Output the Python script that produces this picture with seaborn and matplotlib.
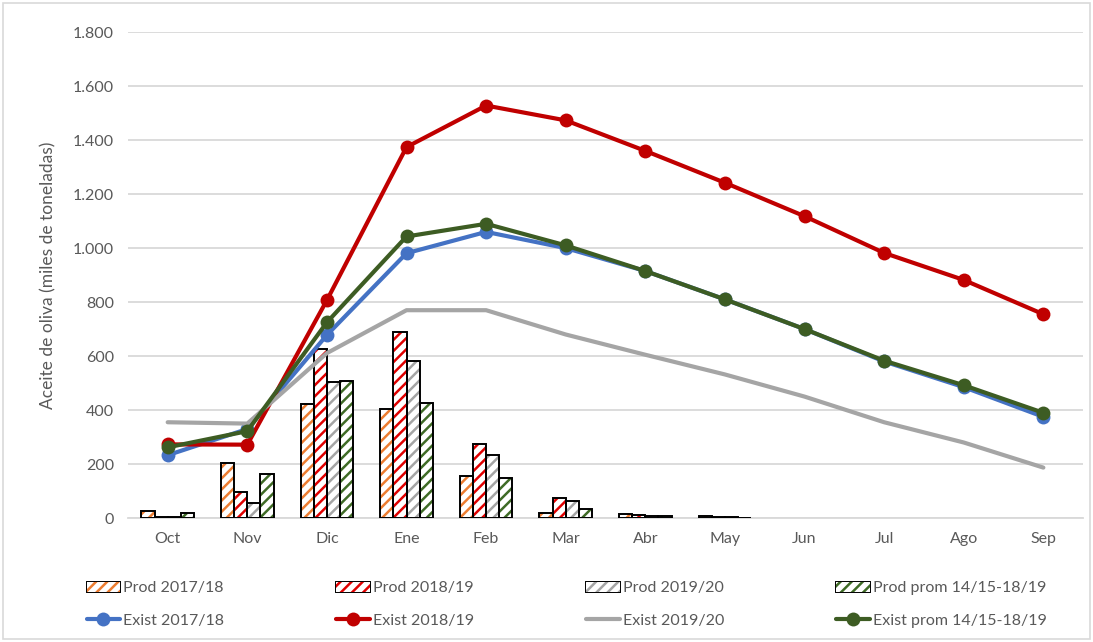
import numpy as np
import pandas as pd
import seaborn as sns
import matplotlib.pyplot as plt
from matplotlib.patches import Rectangle, Patch
from matplotlib.lines import Line2D
from matplotlib.ticker import FuncFormatter

meses = ['Oct', 'Nov', 'Dic', 'Ene', 'Feb', 'Mar', 'Abr', 'May', 'Jun', 'Jul', 'Ago', 'Sep']

prod_1718 = [26, 204, 424, 404, 155, 19, 15, 6, 0, 0, 0, 0]
prod_1819 = [5, 96, 626, 689, 274, 74, 11, 4, 0, 0, 0, 0]
prod_1920 = [5, 55, 504, 581, 233, 63, 6, 3, 0, 0, 0, 0]
prod_prom = [18, 163, 509, 426, 148, 33, 6, 2, 0, 0, 0, 0]

exist_1718 = [233, 330, 678, 981, 1060, 1000, 915, 810, 700, 580, 485, 375]
exist_1819 = [273, 272, 807, 1374, 1528, 1473, 1360, 1242, 1118, 982, 882, 755]
exist_1920 = [355, 350, 611, 770, 770, 680, 605, 532, 450, 355, 280, 187]
exist_prom = [262, 322, 725, 1043, 1090, 1010, 915, 810, 700, 583, 492, 390]

prod_names = ['Prod 2017/18', 'Prod 2018/19', 'Prod 2019/20', 'Prod prom 14/15-18/19']
exist_names = ['Exist 2017/18', 'Exist 2018/19', 'Exist 2019/20', 'Exist prom 14/15-18/19']
bar_colors = ['#ED7D31', '#E00000', '#A5A5A5', '#3F6B26']
line_colors = ['#4472C4', '#C00000', '#A5A5A5', '#3D5C23']

sns.set_theme(style='white')
plt.rcParams['font.family'] = ['Lato', 'DejaVu Sans']
plt.rcParams['hatch.linewidth'] = 1.8
txt = '#595959'

df = pd.DataFrame({
    'mes': meses * 4,
    'serie': sum([[n] * 12 for n in prod_names], []),
    'valor': prod_1718 + prod_1819 + prod_1920 + prod_prom,
})

fig = plt.figure(figsize=(10.93, 6.42), dpi=100)
ax = fig.add_axes([0.117, 0.193, 0.874, 0.757])

sns.barplot(data=df, x='mes', y='valor', hue='serie', hue_order=prod_names,
            order=meses, palette=bar_colors, width=0.66, legend=False, ax=ax,
            zorder=2)

for cont, col in zip(ax.containers, bar_colors):
    for bar in cont:
        bar.set_facecolor('white')
        bar.set_edgecolor(col)
        bar.set_hatch('///')
        bar.set_linewidth(0)
        if bar.get_height() > 0:
            ax.add_patch(Rectangle(bar.get_xy(), bar.get_width(), bar.get_height(),
                                   fill=False, edgecolor='black', lw=1.4, zorder=3))

x = np.arange(len(meses))
for vals, col, name in zip([exist_1718, exist_1819, exist_1920, exist_prom], line_colors, exist_names):
    mk = None if name == 'Exist 2019/20' else 'o'
    sns.lineplot(x=x, y=vals, color=col, marker=mk, markersize=10, markeredgewidth=0,
                 linewidth=3, ax=ax, zorder=4, clip_on=False)

ax.set_xlim(-0.5, 11.5)
ax.set_ylim(0, 1800)
ax.set_yticks(range(0, 1801, 200))
ax.yaxis.set_major_formatter(FuncFormatter(lambda v, p: f'{int(v):,}'.replace(',', '.')))
ax.grid(axis='y', color='#D9D9D9', lw=1.3, zorder=0)
ax.set_axisbelow(True)
for s in ['top', 'right', 'left']:
    ax.spines[s].set_visible(False)
ax.spines['bottom'].set_color('#D9D9D9')
ax.spines['bottom'].set_linewidth(1.3)
ax.tick_params(axis='both', length=0, labelsize=11.5, colors=txt, pad=10)
ax.set_xlabel('')
ax.set_ylabel('Aceite de oliva (miles de toneladas)', fontsize=12.5, color=txt, labelpad=12)

handles = []
for pc, lc, pn, en in zip(bar_colors, line_colors, prod_names, exist_names):
    handles.append(Patch(facecolor='white', edgecolor=pc, hatch='///', lw=0, label=pn))
    if en == 'Exist 2019/20':
        handles.append(Line2D([], [], color=lc, lw=3, label=en))
    else:
        handles.append(Line2D([], [], color=lc, lw=3, marker='o', markersize=10,
                              markeredgewidth=0, label=en))

leg = fig.legend(handles=handles, ncol=4, loc='lower left', bbox_to_anchor=(0.066, 0.0, 0.905, 0.14),
                 mode='expand', frameon=False, fontsize=11.5, handlelength=2.1, handleheight=0.6,
                 handletextpad=0.2, labelspacing=1.15, labelcolor=txt)
# black outlines for the legend bar swatches
fig.canvas.draw()
for h in leg.legend_handles:
    if isinstance(h, Rectangle):
        bb = h.get_window_extent()
        fx, fy = bb.x0 / fig.bbox.width, bb.y0 / fig.bbox.height
        fw, fh = bb.width / fig.bbox.width, bb.height / fig.bbox.height
        fig.patches.append(Rectangle((fx, fy), fw, fh, transform=fig.transFigure,
                                     fill=False, edgecolor='black', lw=1.4))

fig.patches.append(Rectangle((0.003, 0.004), 0.994, 0.992, transform=fig.transFigure,
                             fill=False, edgecolor='#D9D9D9', lw=1.2))

fig.savefig('out.png', dpi=100)
